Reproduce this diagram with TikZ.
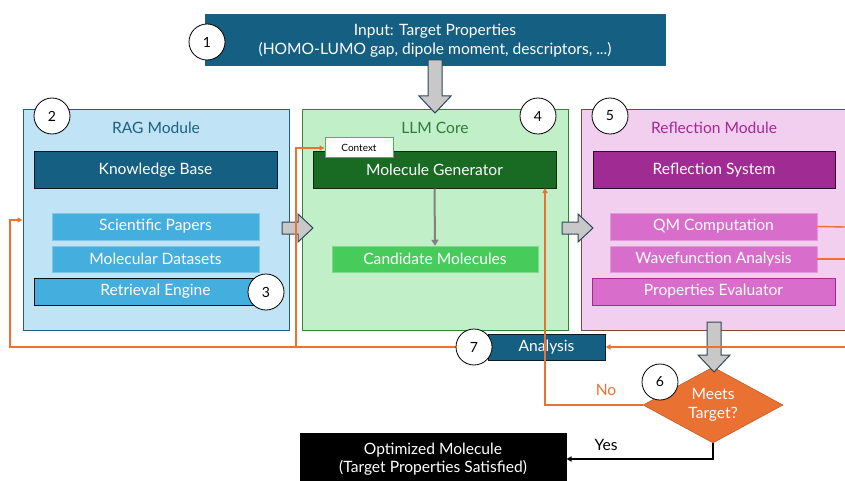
\documentclass[tikz,border=0pt]{standalone}
\usepackage{fontspec}
\setmainfont{Lato}
\usetikzlibrary{shapes.geometric,arrows.meta}
\definecolor{teal}{HTML}{156082}
\definecolor{ragfill}{HTML}{C0E4F5}
\definecolor{ragborder}{HTML}{1F5F7F}
\definecolor{medblue}{HTML}{44AEDE}
\definecolor{llmfill}{HTML}{C1F0C8}
\definecolor{llmborder}{HTML}{3B7D3B}
\definecolor{dkgreen}{HTML}{196B24}
\definecolor{candgreen}{HTML}{47CC5C}
\definecolor{reffill}{HTML}{F2CEEF}
\definecolor{refborder}{HTML}{7A4A40}
\definecolor{purple}{HTML}{A02B93}
\definecolor{pink}{HTML}{D86DCB}
\definecolor{orng}{HTML}{E97132}
\definecolor{arrowgray}{HTML}{C8C8C8}
\definecolor{arrowedge}{HTML}{2F4858}
\tikzset{
  x=1pt,y=-1pt,
  txt/.style={font=\fontsize{15.6}{18.5}\selectfont},
  box/.style={draw, rectangle, inner sep=0pt, text=white, txt, line width=1pt, align=center},
  module/.style={draw, rectangle, inner sep=0pt, line width=1pt},
  title/.style={txt, inner sep=0pt},
  num/.style={draw=black, fill=white, circle, minimum size=36pt, inner sep=0pt, line width=0.8pt, font=\fontsize{14}{16}\selectfont},
  oline/.style={draw=orng, line width=1.4pt},
  oarrow/.style={oline, -{Triangle[length=5pt,width=5pt]}},
  blk/.style={fill=arrowgray, draw=arrowedge, line width=1pt, line join=miter},
}
\newcommand{\blkdown}[3]{% x, ytop, ybottom
  \filldraw[blk] (#1-7,#2) -- (#1+7,#2) -- (#1+7,#3-17) -- (#1+16,#3-17) -- (#1,#3) -- (#1-16,#3-17) -- (#1-7,#3-17) -- cycle;}
\newcommand{\blkright}[3]{% y, xleft, xright
  \filldraw[blk] (#2,#1-6) -- (#3-15,#1-6) -- (#3-15,#1-14) -- (#3,#1) -- (#3-15,#1+14) -- (#3-15,#1+6) -- (#2,#1+6) -- cycle;}
\begin{document}
\begin{tikzpicture}
\useasboundingbox (0,0) rectangle (845,481);
% modules
\node[module, fill=ragfill, draw=ragborder, minimum width=266pt, minimum height=220pt] (rag) at (156,220) {};
\node[module, fill=llmfill, draw=llmborder, minimum width=266pt, minimum height=220pt] (llm) at (435,220) {};
\node[module, fill=reffill, draw=refborder, minimum width=290pt, minimum height=220pt] (refl) at (726,220) {};
\node[title, text=ragborder] (ragt) at (156,128) {RAG Module};
\node[title, text=dkgreen!90!white] (llmt) at (435,128) {LLM Core};
\node[title, text=purple] (reflt) at (714,128) {Reflection Module};
% input
\node[box, fill=teal, draw=ragborder, minimum width=460pt, minimum height=51pt] (input) at (435,40.5) {Input: Target Properties\\(HOMO-LUMO gap, dipole moment, descriptors, ...)};
% RAG contents
\node[box, fill=teal, draw=black!70!teal, minimum width=243pt, minimum height=36pt] (kb) at (155.5,170) {Knowledge Base};
\node[box, fill=medblue, draw=medblue!70!white, line width=0.5pt, minimum width=207pt, minimum height=27pt] (sci) at (155.5,226.5) {Scientific Papers};
\node[box, fill=medblue, draw=medblue!70!white, line width=0.5pt, minimum width=207pt, minimum height=26pt] (mol) at (155.5,259) {Molecular Datasets};
\node[box, fill=medblue, draw=black!80!teal, minimum width=243pt, minimum height=27pt] (ret) at (155.5,291.5) {Retrieval Engine};
% LLM contents
\node[box, fill=dkgreen, draw=black!60!dkgreen, minimum width=243pt, minimum height=36pt] (gen) at (434.5,170) {Molecule Generator};
\node[box, fill=candgreen, draw=candgreen!70!white, line width=0.5pt, minimum width=206pt, minimum height=26pt] (cand) at (435,259) {Candidate Molecules};
\node[draw=green!60!black!70!white, fill=white, line width=1pt, minimum width=68pt, minimum height=20pt, inner sep=0pt, font=\fontsize{10}{11}\selectfont] (ctx) at (359,148) {Context};
% Reflection contents
\node[box, fill=purple, draw=black!70!purple, minimum width=242pt, minimum height=36pt] (rsys) at (714,170) {Reflection System};
\node[box, fill=pink, draw=pink!70!white, line width=0.5pt, minimum width=207pt, minimum height=27pt] (qm) at (713.5,226.5) {QM Computation};
\node[box, fill=pink, draw=pink!70!white, line width=0.5pt, minimum width=207pt, minimum height=26pt] (wave) at (713.5,259) {Wavefunction Analysis};
\node[box, fill=pink, draw=purple, minimum width=243pt, minimum height=27pt] (prop) at (713.5,291.5) {Properties Evaluator};
% analysis, decision, output
\node[box, fill=teal, draw=black!70!teal, minimum width=117pt, minimum height=26pt] (ana) at (546.5,347) {Analysis};
\node[diamond, fill=orng, draw=orng!80!black, line width=0.5pt, minimum width=140pt, minimum height=76pt, inner sep=0pt, aspect=1.84, text=white, txt, align=center] (dec) at (713,405) {Meets\\Target?};
\node[box, fill=black, draw=black, minimum width=266pt, minimum height=52pt] (opt) at (433,459) {Optimized Molecule\\(Target Properties Satisfied)};
% block arrows
\blkdown{435}{60}{113}
\blkright{228}{282}{313}
\blkright{228}{562}{593}
\blkdown{714}{322}{372}
% gray internal arrow
\draw[draw=black!50, line width=2pt, -{Triangle[length=6pt,width=7pt]}] (gen.south) -- (cand.north);
% orange feedback
\coordinate (qmout) at (845,227);
\coordinate (waveout) at (845,259);
\coordinate (loopin) at (845,347);
\coordinate (leftx) at (10,347);
\coordinate (branch) at (296,347);
\draw[oline] (qm.east) -- (qmout);
\draw[oline] (wave.east) -- (waveout);
\draw[oarrow] (loopin) -- (ana.east);
\draw[oarrow] (ana.west) -- (leftx) |- (rag.west);
\draw[oarrow] (branch) |- (ctx.west);
\coordinate (nox) at (545,188);
\draw[oarrow] (dec.west) -| (nox);
\node[text=orng, txt, inner sep=0pt] (nolab) at (606,390) {No};
\draw[line width=1.4pt, -{Triangle[length=5pt,width=5pt]}] (dec.south) |- (opt.east);
\node[txt, inner sep=0pt] (yeslab) at (606,445) {Yes};
% numbered circles
\node[num] (c1) at (207,42) {1};
\node[num] (c2) at (52,116) {2};
\node[num] (c3) at (266,292) {3};
\node[num] (c4) at (538,116) {4};
\node[num] (c5) at (610,116) {5};
\node[num] (c6) at (660,382) {6};
\node[num] (c7) at (474,347) {7};
\end{tikzpicture}
\end{document}
